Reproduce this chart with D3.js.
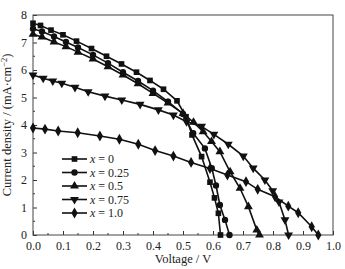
<!DOCTYPE html>
<html>
<head>
<meta charset="utf-8">
<script src="https://cdn.jsdelivr.net/npm/d3@7"></script>
<style>
  body { margin: 0; background: #fff; }
  text { font-family: "Liberation Serif", "DejaVu Serif", serif; fill: #222; }
</style>
</head>
<body>
<script>
const chartWidth = 345;
const chartHeight = 269;
const margin = {top: 15, right: 12, bottom: 34, left: 33};

// voltage (V) and current density (mA/cm2)
const seriesLabels = ['0', '0.25', '0.5', '0.75', '1.0'];
const markerTypes = ['square', 'circle', 'triangleUp', 'triangleDown', 'diamond'];

const voltsX0 = [0, 0.025, 0.06, 0.1, 0.145, 0.195, 0.245, 0.295, 0.345, 0.39, 0.435, 0.48, 0.51, 0.53, 0.562, 0.59, 0.605, 0.618, 0.625];
const currentX0 = [7.7, 7.62, 7.45, 7.28, 7.05, 6.78, 6.5, 6.22, 5.92, 5.62, 5.3, 4.88, 4.3, 3.64, 2.85, 1.92, 1.35, 0.79, 0];

const voltsX025 = [0, 0.03, 0.07, 0.11, 0.15, 0.2, 0.25, 0.3, 0.35, 0.4, 0.45, 0.5, 0.534, 0.573, 0.596, 0.61, 0.623, 0.64, 0.655];
const currentX025 = [7.5, 7.4, 7.22, 7.02, 6.82, 6.55, 6.25, 5.92, 5.6, 5.25, 4.85, 4.4, 3.7, 3.15, 2.43, 1.8, 1.09, 0.55, 0];

const voltsX05 = [0, 0.03, 0.07, 0.11, 0.15, 0.2, 0.25, 0.3, 0.35, 0.4, 0.45, 0.5, 0.535, 0.567, 0.595, 0.623, 0.657, 0.69, 0.718, 0.746, 0.755];
const currentX05 = [7.3, 7.2, 7.02, 6.85, 6.65, 6.4, 6.12, 5.82, 5.5, 5.15, 4.8, 4.42, 4.1, 3.76, 3.4, 3.03, 2.3, 1.7, 1.03, 0.18, 0];

const voltsX075 = [0, 0.034, 0.066, 0.096, 0.14, 0.184, 0.24, 0.296, 0.357, 0.418, 0.468, 0.512, 0.562, 0.603, 0.651, 0.701, 0.734, 0.773, 0.799, 0.82, 0.84, 0.852];
const currentX075 = [5.82, 5.7, 5.6, 5.52, 5.37, 5.21, 5.05, 4.91, 4.75, 4.55, 4.36, 4.12, 3.95, 3.66, 3.3, 2.87, 2.43, 2.0, 1.61, 1.2, 0.55, 0];

const voltsX10 = [0, 0.04, 0.084, 0.149, 0.223, 0.288, 0.351, 0.407, 0.468, 0.527, 0.59, 0.648, 0.71, 0.749, 0.807, 0.851, 0.884, 0.929, 0.951];
const currentX10 = [3.89, 3.85, 3.78, 3.72, 3.6, 3.48, 3.3, 3.07, 2.87, 2.64, 2.42, 2.18, 1.94, 1.66, 1.39, 1.05, 0.81, 0.3, 0];

const xTickValues = [0, 0.1, 0.2, 0.3, 0.4, 0.5, 0.6, 0.7, 0.8, 0.9, 1.0];
const yTickValues = [0, 1, 2, 3, 4, 5, 6, 7, 8];

const allVolts = [voltsX0, voltsX025, voltsX05, voltsX075, voltsX10];
const allCurrent = [currentX0, currentX025, currentX05, currentX075, currentX10];

const series = seriesLabels.map((label, i) => ({
  label: label,
  marker: markerTypes[i],
  points: allVolts[i].map((v, j) => [v, allCurrent[i][j]])
}));

const xScale = d3.scaleLinear()
                .domain([0, 1])
                .range([margin.left, chartWidth - margin.right]);

const yScale = d3.scaleLinear()
                .domain([0, 8])
                .range([chartHeight - margin.bottom, margin.top]);

const symbolFor = {
  square: d3.symbol().type(d3.symbolSquare).size(32),
  circle: d3.symbol().type(d3.symbolCircle).size(32),
  triangleUp: d3.symbol().type(d3.symbolTriangle).size(34),
  triangleDown: d3.symbol().type(d3.symbolTriangle).size(34),
  diamond: d3.symbol().type(d3.symbolDiamond).size(34)
};

const svg = d3.select('body')
              .append('svg')
              .attr('width', chartWidth)
              .attr('height', chartHeight);

const plotBottom = chartHeight - margin.bottom;

// axes with inward ticks
const xAxis = d3.axisBottom(xScale)
                .tickValues(xTickValues)
                .tickFormat(d3.format('.1f'))
                .tickSizeInner(-4)
                .tickSizeOuter(0)
                .tickPadding(6);

const xAxisG = svg.append('g')
    .attr('transform', 'translate(0,' + plotBottom + ')')
    .call(xAxis);

const yAxis = d3.axisLeft(yScale)
                .tickValues(yTickValues)
                .tickFormat(d3.format('d'))
                .tickSizeInner(-4)
                .tickSizeOuter(0)
                .tickPadding(6);

const yAxisG = svg.append('g')
    .attr('transform', 'translate(' + margin.left + ',0)')
    .call(yAxis);

[xAxisG, yAxisG].forEach(g => {
  g.select('.domain').remove();
  g.selectAll('line').attr('stroke', '#333');
  g.selectAll('text').style('font-family', '"Liberation Serif", serif').style('font-size', '12px').attr('fill', '#222');
});

// minor ticks
svg.append('g').selectAll('line')
    .data(d3.range(0.05, 1, 0.1))
    .enter()
    .append('line')
    .attr('x1', d => xScale(d))
    .attr('x2', d => xScale(d))
    .attr('y1', plotBottom)
    .attr('y2', plotBottom - 2)
    .attr('stroke', '#333');

svg.append('g').selectAll('line')
    .data(d3.range(0.5, 8, 1))
    .enter()
    .append('line')
    .attr('x1', margin.left)
    .attr('x2', margin.left + 2)
    .attr('y1', d => yScale(d))
    .attr('y2', d => yScale(d))
    .attr('stroke', '#333');

// frame
svg.append('rect')
    .attr('x', margin.left)
    .attr('y', margin.top)
    .attr('width', chartWidth - margin.left - margin.right)
    .attr('height', plotBottom - margin.top)
    .attr('fill', 'none')
    .attr('stroke', '#444')
    .attr('stroke-width', 1);

const line = d3.line()
               .x(d => xScale(d[0]))
               .y(d => yScale(d[1]));

const seriesG = svg.selectAll('.series')
    .data(series)
    .enter()
    .append('g')
    .attr('class', 'series');

seriesG.append('path')
    .attr('d', d => line(d.points))
    .attr('fill', 'none')
    .attr('stroke', '#111')
    .attr('stroke-width', 1.6);

seriesG.each(function(s) {
  d3.select(this).selectAll('path.mark')
    .data(s.points)
    .enter()
    .append('path')
    .attr('class', 'mark')
    .attr('d', symbolFor[s.marker]())
    .attr('transform', d => 'translate(' + xScale(d[0]) + ',' + yScale(d[1]) + ')' + (s.marker === 'triangleDown' ? ' rotate(180)' : ''))
    .attr('fill', '#111');
});

// legend
const legendX = 62;
const legendY = 159;
const legendStep = 13.5;

const legendG = svg.selectAll('.legend')
    .data(series)
    .enter()
    .append('g')
    .attr('class', 'legend')
    .attr('transform', (d, i) => 'translate(' + legendX + ',' + (legendY + i * legendStep) + ')');

legendG.append('line')
    .attr('x1', 0)
    .attr('x2', 25)
    .attr('stroke', '#111')
    .attr('stroke-width', 1.6);

legendG.append('path')
    .attr('d', d => symbolFor[d.marker]())
    .attr('transform', d => 'translate(12.5,0)' + (d.marker === 'triangleDown' ? ' rotate(180)' : ''))
    .attr('fill', '#111');

const legendText = legendG.append('text')
    .attr('x', 28)
    .attr('y', 4)
    .style('font-size', '12px');

legendText.append('tspan')
    .style('font-style', 'italic')
    .text('x');

legendText.append('tspan')
    .text(d => ' = ' + d.label);

// axis titles
svg.append('text')
    .attr('x', (margin.left + chartWidth - margin.right) / 2)
    .attr('y', chartHeight - 6)
    .attr('text-anchor', 'middle')
    .style('font-size', '12.5px')
    .text('Voltage / V');

const yTitle = svg.append('text')
    .attr('transform', 'translate(11,' + ((margin.top + plotBottom) / 2) + ') rotate(-90)')
    .attr('text-anchor', 'middle')
    .style('font-size', '12.5px');

yTitle.append('tspan').text('Current density / (mA·cm');
yTitle.append('tspan').attr('dy', -4).style('font-size', '8.5px').text('−2');
yTitle.append('tspan').attr('dy', 4).text(')');
</script>
</body>
</html>
